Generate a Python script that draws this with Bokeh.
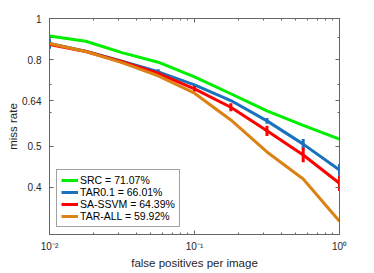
from bokeh.plotting import figure
from bokeh.models import (Range1d, FixedTicker, CustomJSTickFormatter, LogAxis,
                          Legend, LegendItem)
from bokeh.embed import file_html
from bokeh.resources import INLINE

# ---- data ----
fppi = [0.01, 0.0178, 0.0316, 0.0562, 0.1, 0.178, 0.316, 0.562, 1.0]
src_mr = [0.910, 0.884, 0.831, 0.789, 0.729, 0.665, 0.606, 0.560, 0.520]
tar01_mr = [0.873, 0.837, 0.793, 0.749, 0.698, 0.641, 0.574, 0.506, 0.440]
sassvm_mr = [0.868, 0.836, 0.791, 0.743, 0.683, 0.618, 0.544, 0.477, 0.409]
tarall_mr = [0.873, 0.836, 0.787, 0.733, 0.667, 0.577, 0.485, 0.419, 0.333]
# error bar half-lengths in log10 units
tar01_err = [0.012, 0, 0, 0.006, 0, 0, 0.007, 0.012, 0.014]
sassvm_err = [0, 0, 0.004, 0, 0.0065, 0.0095, 0.012, 0.017, 0.018]

labels = ["SRC = 71.07%", "TAR0.1 = 66.01%", "SA-SSVM = 64.39%", "TAR-ALL = 59.92%"]
colors = ["#00EE00", "#1A72BD", "#FF0000", "#DC8214"]

x_major = [0.01, 0.1, 1.0]
x_minor = [k * 0.01 for k in range(2, 10)] + [k * 0.1 for k in range(2, 10)]
y_major = [0.4, 0.5, 0.64, 0.8, 1.0]
y_minor = [0.3, 0.6, 0.7, 0.9]

FONT = "Liberation Sans"
AX = "#666666"
TXT = "#262626"

p = figure(frame_width=290, frame_height=216,
           x_axis_type="log", y_axis_type="log",
           x_range=Range1d(0.01, 1.0), y_range=Range1d(0.31, 1.0),
           output_backend="svg", toolbar_location=None,
           min_border_left=49, min_border_right=20,
           min_border_top=18, min_border_bottom=30)
p.xgrid.visible = False
p.ygrid.visible = False
p.outline_line_color = AX

xfmt = CustomJSTickFormatter(code="""
const e = Math.round(Math.log10(tick));
const sup = {'-2': '\u207b\u00b2', '-1': '\u207b\u00b9', '0': '\u2070'};
return '10' + sup[String(e)];
""")
yfmt = CustomJSTickFormatter(code="return String(Number(tick.toFixed(2)));")
blank = CustomJSTickFormatter(code="return '';")

def style_axis(ax):
    ax.axis_line_color = AX
    ax.major_tick_line_color = AX
    ax.minor_tick_line_color = AX
    ax.major_tick_in = 4
    ax.major_tick_out = 0
    ax.minor_tick_in = 2
    ax.minor_tick_out = 0
    ax.major_label_text_font = FONT
    ax.major_label_text_color = TXT
    ax.major_label_text_font_size = "10px"

xa = p.xaxis[0]
xa.ticker = FixedTicker(ticks=x_major, minor_ticks=x_minor)
xa.formatter = xfmt
style_axis(xa)
xa.major_label_standoff = 6
xa.axis_label = "false positives per image"
xa.axis_label_text_font = FONT
xa.axis_label_text_font_style = "normal"
xa.axis_label_text_font_size = "11.5px"
xa.axis_label_text_color = TXT
xa.axis_label_standoff = 2

ya = p.yaxis[0]
ya.ticker = FixedTicker(ticks=y_major, minor_ticks=y_minor)
ya.formatter = yfmt
style_axis(ya)
ya.major_label_standoff = 8
ya.axis_label = "miss rate"
ya.axis_label_text_font = FONT
ya.axis_label_text_font_style = "normal"
ya.axis_label_text_font_size = "11.5px"
ya.axis_label_text_color = TXT
ya.axis_label_standoff = 0

top = LogAxis(ticker=FixedTicker(ticks=x_major, minor_ticks=x_minor), formatter=blank)
style_axis(top)
top.major_label_standoff = 0
p.add_layout(top, "above")
right = LogAxis(ticker=FixedTicker(ticks=y_major, minor_ticks=y_minor), formatter=blank)
style_axis(right)
right.major_label_standoff = 0
p.add_layout(right, "right")

series = [src_mr, tar01_mr, sassvm_mr, tarall_mr]
errs = [None, tar01_err, sassvm_err, None]
renderers = []
for ys, err, col in zip(series, errs, colors):
    r = p.line(fppi, ys, line_color=col, line_width=3)
    renderers.append(r)
    if err is not None:
        lo = [y * 10 ** (-e) for y, e in zip(ys, err)]
        hi = [y * 10 ** (e) for y, e in zip(ys, err)]
        p.segment(x0=fppi, y0=lo, x1=fppi, y1=hi, line_color=col,
                  line_width=3, line_cap="butt")

legend = Legend(items=[LegendItem(label=l, renderers=[r]) for l, r in zip(labels, renderers)],
                location=(7, 7))
legend.label_text_font = FONT
legend.label_text_font_size = "10.5px"
legend.label_text_color = "#000000"
legend.glyph_width = 17
legend.glyph_height = 12
legend.label_height = 12
legend.label_standoff = 2
legend.spacing = 0
legend.padding = 4
legend.margin = 0
legend.border_line_color = "#444444"
legend.border_line_width = 1
legend.background_fill_alpha = 1.0
p.add_layout(legend)

open("out.html", "w").write(file_html(p, INLINE))
